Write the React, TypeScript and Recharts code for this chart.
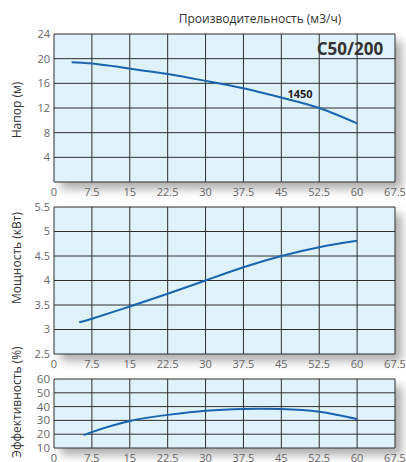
import React from 'react';
import { LineChart, Line, XAxis, YAxis, CartesianGrid } from 'recharts';

// Q axis (м3/ч)
const flowTicks = [0, 7.5, 15, 22.5, 30, 37.5, 45, 52.5, 60, 67.5];

const headFlow = [3.5, 7.5, 15, 22.5, 30, 37.5, 45, 52.5, 60];
const headValues = [19.4, 19.2, 18.4, 17.5, 16.4, 15.2, 13.7, 12, 9.5];
const headTicks = [0, 4, 8, 12, 16, 20, 24];

const powerFlow = [5, 7.5, 15, 22.5, 30, 37.5, 45, 52.5, 60];
const powerValues = [3.15, 3.22, 3.47, 3.73, 4.0, 4.27, 4.5, 4.68, 4.81];
const powerTicks = [2.5, 3, 3.5, 4, 4.5, 5, 5.5];

const effFlow = [6, 7.5, 15, 22.5, 30, 37.5, 45, 52.5, 60];
const effValues = [19, 21.5, 29.5, 34, 37, 38.3, 38.2, 36.3, 31];
const effTicks = [10, 20, 30, 40, 50, 60];

const CURVE = '#1a64b0';
const GRID = '#2f2f2f';
const BG = '#dff1f9';
const FONT = '"Open Sans", sans-serif';

const zip = (xs: number[], ys: number[]) => xs.map((q, i) => ({ q, v: ys[i] }));

type PanelProps = {
  top: number;
  plotTop: number;
  plotBottom: number;
  data: { q: number; v: number }[];
  domain: [number, number];
  ticks: number[];
  hideFirst?: boolean;
  yFont?: number;
};

const PLOT_LEFT = 54;
const PLOT_RIGHT = 395;
const W = 406;

const Panel = ({ top, plotTop, plotBottom, data, domain, ticks, hideFirst, yFont = 11 }: PanelProps) => {
  const height = plotBottom - top + 20;
  return (
    <div style={{ position: 'absolute', left: 0, top, width: W, height }}>
      <div
        style={{
          position: 'absolute',
          left: PLOT_LEFT,
          top: plotTop - top,
          width: PLOT_RIGHT - PLOT_LEFT,
          height: plotBottom - plotTop,
          boxShadow: '7px 7px 9px rgba(0,0,0,0.32)',
        }}
      />
      <div style={{ position: 'absolute', left: 0, top: 0 }}>
        <LineChart
          width={W}
          height={height}
          data={data}
          margin={{ top: plotTop - top, right: W - PLOT_RIGHT, bottom: 4, left: 0 }}
        >
          <CartesianGrid stroke={GRID} strokeWidth={1} fill={BG} fillOpacity={1} />
          <XAxis
            dataKey="q"
            type="number"
            domain={[0, 67.5]}
            ticks={flowTicks}
            interval={0}
            axisLine={false}
            tickLine={false}
            tickSize={0}
            tickMargin={6}
            height={16}
            tick={{ fontSize: 11, fill: '#666', fontFamily: FONT }}
          />
          <YAxis
            type="number"
            domain={domain}
            ticks={ticks}
            interval={0}
            width={PLOT_LEFT}
            axisLine={false}
            tickLine={false}
            tickSize={0}
            tickMargin={4}
            tick={{ fontSize: yFont, fill: '#666', fontFamily: FONT }}
            tickFormatter={(v: number) => (hideFirst && v === domain[0] ? '' : String(v))}
          />
          <Line
            type="natural"
            dataKey="v"
            stroke={CURVE}
            strokeWidth={2}
            dot={false}
            isAnimationActive={false}
          />
        </LineChart>
      </div>
    </div>
  );
};

const vLabel = (text: string, cy: number) => (
  <div
    style={{
      position: 'absolute',
      left: 16,
      top: cy,
      transform: 'translate(-50%, -50%) rotate(-90deg)',
      whiteSpace: 'nowrap',
      fontSize: 12,
      color: '#333',
      fontFamily: FONT,
    }}
  >
    {text}
  </div>
);

export default function App() {
  return (
    <div
      style={{
        position: 'absolute',
        left: 0,
        top: 0,
        width: W,
        height: 462,
        background: '#fff',
        overflow: 'hidden',
        fontFamily: FONT,
      }}
    >
      <div style={{ position: 'absolute', left: 260, top: 18, transform: 'translate(-50%, -50%)', fontSize: 12, color: '#333', whiteSpace: 'nowrap' }}>
        Производительность (м3/ч)
      </div>
      <Panel top={0} plotTop={34} plotBottom={182} data={zip(headFlow, headValues)} domain={[0, 24]} ticks={headTicks} hideFirst />
      <Panel top={186} plotTop={207} plotBottom={354} data={zip(powerFlow, powerValues)} domain={[2.5, 5.5]} ticks={powerTicks} />
      <Panel top={360} plotTop={379} plotBottom={448} data={zip(effFlow, effValues)} domain={[10, 60]} ticks={effTicks} yFont={11.5} />
      <div style={{ position: 'absolute', left: 350, top: 48, transform: 'translate(-50%, -50%)', fontSize: 17, fontWeight: 700, color: '#333' }}>
        C50/200
      </div>
      <div style={{ position: 'absolute', left: 300, top: 93, transform: 'translate(-50%, -50%)', fontSize: 11, fontWeight: 700, color: '#222' }}>
        1450
      </div>
      {vLabel('Напор (м)', 110)}
      {vLabel('Мощность (кВт)', 258)}
      {vLabel('Эффективность (%)', 402)}
    </div>
  );
}
